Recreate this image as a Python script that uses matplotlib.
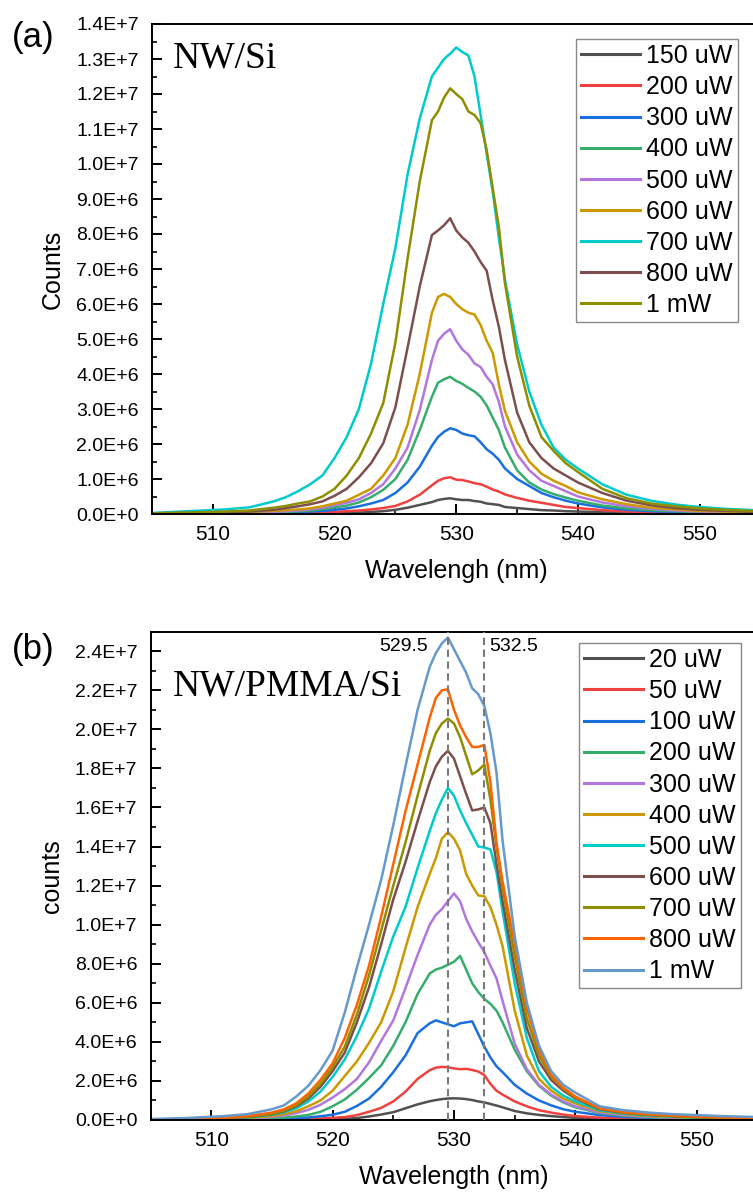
import numpy as np
import matplotlib
matplotlib.use("Agg")
import matplotlib.pyplot as plt
from matplotlib.ticker import MultipleLocator, FuncFormatter

plt.rcParams['font.family'] = ['Liberation Sans', 'DejaVu Sans']

# ---------------- data (counts in units of 1e6) ----------------
wl = [505, 508, 511, 513, 515, 516, 517, 518, 519, 520, 521, 522, 523, 524, 525, 526, 527, 528,
      528.5, 529, 529.5, 530, 530.5, 531, 531.5, 532, 532.5, 533, 533.5, 534,
      535, 536, 537, 538, 539, 540, 542, 544, 546, 548, 550, 552, 555]

# (a) NW/Si
a_labels = ['150 uW', '200 uW', '300 uW', '400 uW', '500 uW', '600 uW', '700 uW', '800 uW', '1 mW']
a_150 = [0, 0, 0.005, 0.005, 0.01, 0.01, 0.015, 0.02, 0.02, 0.03, 0.03, 0.04, 0.06, 0.08, 0.12, 0.18, 0.26, 0.34,
         0.4, 0.43, 0.45, 0.42, 0.4, 0.4, 0.37, 0.35, 0.3, 0.28, 0.26, 0.2,
         0.17, 0.14, 0.11, 0.1, 0.08, 0.07, 0.05, 0.03, 0.02, 0.015, 0.01, 0.01, 0.005]
a_200 = [0, 0.005, 0.01, 0.01, 0.02, 0.02, 0.03, 0.04, 0.05, 0.06, 0.08, 0.1, 0.13, 0.17, 0.23, 0.36, 0.55, 0.82,
         0.95, 1.02, 1.05, 0.98, 0.97, 0.93, 0.88, 0.85, 0.78, 0.7, 0.64, 0.56,
         0.46, 0.38, 0.32, 0.26, 0.2, 0.17, 0.11, 0.07, 0.05, 0.03, 0.02, 0.02, 0.01]
a_300 = [0.005, 0.01, 0.015, 0.02, 0.03, 0.04, 0.05, 0.07, 0.09, 0.12, 0.16, 0.22, 0.3, 0.4, 0.6, 0.9, 1.35, 1.95,
         2.2, 2.35, 2.45, 2.4, 2.3, 2.25, 2.22, 2.05, 1.85, 1.72, 1.55, 1.3,
         1.0, 0.8, 0.6, 0.48, 0.38, 0.3, 0.19, 0.12, 0.08, 0.06, 0.04, 0.03, 0.02]
a_400 = [0.01, 0.01, 0.02, 0.03, 0.05, 0.06, 0.08, 0.1, 0.14, 0.19, 0.24, 0.33, 0.48, 0.69, 1.0, 1.55, 2.4, 3.35,
         3.75, 3.85, 3.92, 3.8, 3.72, 3.6, 3.5, 3.35, 3.1, 2.75, 2.4, 1.9,
         1.25, 0.9, 0.7, 0.57, 0.47, 0.38, 0.24, 0.16, 0.11, 0.08, 0.06, 0.04, 0.03]
a_500 = [0.01, 0.02, 0.03, 0.04, 0.06, 0.08, 0.1, 0.13, 0.18, 0.25, 0.32, 0.42, 0.6, 0.85, 1.3, 1.9, 2.97, 4.4,
         4.95, 5.15, 5.28, 4.95, 4.7, 4.55, 4.3, 4.2, 3.92, 3.7, 3.2, 2.5,
         1.7, 1.25, 0.95, 0.8, 0.65, 0.5, 0.33, 0.22, 0.15, 0.1, 0.07, 0.05, 0.04]
a_600 = [0.01, 0.02, 0.04, 0.06, 0.09, 0.11, 0.13, 0.16, 0.22, 0.3, 0.38, 0.55, 0.72, 1.1, 1.6, 2.55, 4.0, 5.75,
         6.2, 6.29, 6.2, 6.0, 5.85, 5.75, 5.7, 5.4, 4.95, 4.6, 3.7, 2.95,
         2.05, 1.5, 1.15, 0.95, 0.8, 0.62, 0.42, 0.28, 0.18, 0.13, 0.09, 0.07, 0.05]
a_700 = [0.03, 0.08, 0.13, 0.19, 0.36, 0.48, 0.65, 0.85, 1.1, 1.6, 2.2, 3.0, 4.3, 6.0, 7.6, 9.7, 11.3, 12.5,
         12.75, 13.0, 13.15, 13.33, 13.2, 13.1, 12.5, 11.4, 10.3, 9.2, 7.9, 6.7,
         4.85, 3.5, 2.55, 1.9, 1.55, 1.3, 0.85, 0.55, 0.38, 0.27, 0.2, 0.15, 0.1]
a_800 = [0.02, 0.03, 0.05, 0.07, 0.12, 0.17, 0.22, 0.28, 0.36, 0.52, 0.72, 1.05, 1.45, 2.02, 3.05, 4.75, 6.5, 7.97,
         8.1, 8.25, 8.45, 8.1, 7.9, 7.75, 7.5, 7.2, 6.95, 6.1, 5.35, 4.4,
         2.9, 2.05, 1.6, 1.3, 1.1, 0.9, 0.6, 0.38, 0.25, 0.17, 0.12, 0.09, 0.06]
a_1mw = [0.02, 0.04, 0.07, 0.1, 0.18, 0.23, 0.3, 0.36, 0.5, 0.72, 1.1, 1.6, 2.3, 3.17, 4.9, 7.3, 9.5, 11.25,
         11.5, 11.9, 12.16, 12.0, 11.85, 11.5, 11.4, 11.17, 10.4, 9.3, 8.2, 6.6,
         4.5, 3.1, 2.2, 1.8, 1.45, 1.2, 0.72, 0.45, 0.3, 0.22, 0.16, 0.12, 0.08]

# (b) NW/PMMA/Si
b_labels = ['20 uW', '50 uW', '100 uW', '200 uW', '300 uW', '400 uW', '500 uW', '600 uW', '700 uW', '800 uW', '1 mW']
b_20 = [0, 0, 0.005, 0.005, 0.01, 0.01, 0.015, 0.02, 0.03, 0.04, 0.06, 0.1, 0.18, 0.28, 0.4, 0.6, 0.8, 0.96,
        1.02, 1.07, 1.1, 1.11, 1.1, 1.07, 1.02, 0.95, 0.9, 0.82, 0.74, 0.65,
        0.46, 0.34, 0.26, 0.2, 0.15, 0.11, 0.07, 0.05, 0.03, 0.02, 0.015, 0.01, 0.01]
b_50 = [0, 0.005, 0.01, 0.01, 0.02, 0.03, 0.04, 0.06, 0.08, 0.11, 0.15, 0.25, 0.42, 0.62, 0.95, 1.45, 2.1, 2.55,
        2.68, 2.72, 2.7, 2.64, 2.6, 2.62, 2.56, 2.48, 2.3, 1.85, 1.5, 1.3,
        0.95, 0.7, 0.5, 0.38, 0.28, 0.2, 0.12, 0.08, 0.05, 0.04, 0.03, 0.02, 0.015]
b_100 = [0.005, 0.01, 0.015, 0.02, 0.04, 0.06, 0.09, 0.13, 0.19, 0.27, 0.42, 0.72, 1.1, 1.7, 2.45, 3.3, 4.45, 4.95,
         5.1, 5.0, 4.9, 4.8, 4.95, 5.0, 5.05, 4.4, 3.75, 3.2, 2.75, 2.45,
         1.8, 1.35, 1.0, 0.75, 0.55, 0.42, 0.25, 0.16, 0.11, 0.08, 0.06, 0.04, 0.03]
b_200 = [0.01, 0.01, 0.02, 0.04, 0.08, 0.12, 0.18, 0.26, 0.42, 0.7, 1.05, 1.55, 2.15, 2.8, 3.8, 5.0, 6.45, 7.5,
         7.7, 7.8, 7.95, 8.1, 8.4, 7.7, 7.0, 6.55, 6.2, 5.95, 5.6, 5.0,
         3.6, 2.5, 1.75, 1.25, 0.9, 0.65, 0.35, 0.22, 0.15, 0.1, 0.08, 0.06, 0.04]
b_300 = [0.01, 0.02, 0.04, 0.07, 0.15, 0.23, 0.35, 0.52, 0.78, 1.15, 1.58, 2.1, 2.95, 4.05, 5.1, 6.75, 8.45, 10.0,
         10.5, 10.8, 11.2, 11.6, 11.2, 10.3, 9.65, 9.1, 8.6, 7.9, 7.25, 6.1,
         3.9, 2.6, 1.8, 1.3, 0.95, 0.7, 0.38, 0.25, 0.17, 0.12, 0.09, 0.07, 0.05]
b_400 = [0.02, 0.03, 0.06, 0.1, 0.2, 0.3, 0.45, 0.7, 1.0, 1.5, 2.25, 3.0, 3.95, 5.0, 6.6, 8.8, 10.9, 12.6,
         13.4, 14.4, 14.74, 14.4, 13.8, 12.6, 12.0, 11.5, 11.45, 10.9, 10.0, 8.9,
         5.6, 3.3, 2.1, 1.5, 1.1, 0.85, 0.45, 0.3, 0.2, 0.15, 0.11, 0.08, 0.06]
b_500 = [0.02, 0.04, 0.08, 0.13, 0.27, 0.4, 0.6, 0.95, 1.45, 2.2, 3.1, 4.3, 5.7, 7.6, 9.4, 10.9, 12.9, 14.8,
         15.7, 16.4, 17.0, 16.6, 15.85, 15.2, 14.6, 14.0, 13.95, 13.85, 12.7, 10.7,
         7.0, 4.2, 2.5, 1.7, 1.25, 0.95, 0.5, 0.33, 0.23, 0.17, 0.12, 0.1, 0.07]
b_600 = [0.02, 0.05, 0.09, 0.15, 0.3, 0.45, 0.7, 1.1, 1.7, 2.5, 3.45, 5.0, 6.8, 9.0, 11.3, 13.2, 15.3, 17.3,
         18.1, 18.6, 18.9, 18.5, 17.6, 16.7, 15.85, 15.9, 16.0, 15.2, 13.1, 11.2,
         7.7, 4.7, 3.0, 2.05, 1.5, 1.1, 0.55, 0.36, 0.26, 0.19, 0.14, 0.11, 0.08]
b_700 = [0.03, 0.05, 0.1, 0.17, 0.32, 0.48, 0.75, 1.2, 1.85, 2.7, 3.75, 5.4, 7.4, 9.7, 12.0, 14.2, 16.6, 18.9,
         19.8, 20.3, 20.55, 20.3, 19.6, 18.65, 17.7, 17.9, 18.2, 16.4, 14.0, 11.9,
         8.4, 5.2, 3.3, 2.2, 1.6, 1.15, 0.58, 0.38, 0.27, 0.2, 0.15, 0.12, 0.09]
b_800 = [0.03, 0.06, 0.12, 0.2, 0.38, 0.55, 0.85, 1.35, 2.05, 2.9, 4.2, 5.9, 7.9, 10.4, 13.1, 15.8, 18.2, 20.6,
         21.6, 22.0, 22.05, 21.0, 20.2, 19.6, 19.1, 19.1, 19.2, 17.3, 14.2, 12.2,
         9.0, 5.7, 3.6, 2.3, 1.65, 1.2, 0.6, 0.4, 0.3, 0.22, 0.17, 0.13, 0.1]
b_1mw = [0.05, 0.1, 0.2, 0.3, 0.55, 0.75, 1.2, 1.75, 2.55, 3.55, 5.5, 7.8, 10.0, 12.3, 15.1, 18.1, 21.0, 23.2,
         23.9, 24.4, 24.7, 24.1, 23.5, 22.9, 22.1, 21.8, 21.2, 19.8, 17.8, 14.3,
         9.4, 6.0, 3.8, 2.5, 1.8, 1.4, 0.7, 0.5, 0.38, 0.3, 0.25, 0.2, 0.15]

a_series = [a_150, a_200, a_300, a_400, a_500, a_600, a_700, a_800, a_1mw]
b_series = [b_20, b_50, b_100, b_200, b_300, b_400, b_500, b_600, b_700, b_800, b_1mw]
for s in a_series + b_series:
    assert len(s) == len(wl)

colors = ['#515151', '#F14040', '#1A6FDF', '#37AD6B', '#B177DE', '#CC9900',
          '#00CBCC', '#7D4E4E', '#8E8E00', '#FB6501', '#6699CC']
a_colors = colors[:9]
b_colors = colors[:11]

marker_lines = [529.5, 532.5]

# ---------------- figure ----------------
W, H = 753, 1192
fig = plt.figure(figsize=(W / 100, H / 100), dpi=100)


def sci(v, pos):
    if abs(v) < 1e-9:
        return '0.0E+0'
    e = int(np.floor(np.log10(abs(v)) + 1e-9))
    m = v / 10 ** e
    return f'{m:.1f}E+{e}'


def style_axes(ax, ymax, ymajor, yminor, ylabel, xlabel):
    ax.set_xlim(505, 555)
    ax.set_ylim(0, ymax)
    ax.xaxis.set_major_locator(MultipleLocator(10))
    ax.xaxis.set_minor_locator(MultipleLocator(5))
    ax.yaxis.set_major_locator(MultipleLocator(ymajor))
    ax.yaxis.set_minor_locator(MultipleLocator(yminor))
    ax.yaxis.set_major_formatter(FuncFormatter(sci))
    ax.tick_params(which='major', direction='in', length=7, width=1.4,
                   top=False, right=False)
    ax.tick_params(which='minor', direction='in', length=3.5, width=1.2, top=False, right=False)
    ax.tick_params(axis='y', which='major', pad=9.5, labelsize=14)
    ax.tick_params(axis='x', which='major', pad=8, labelsize=15)
    for sp in ax.spines.values():
        sp.set_linewidth(1.4)
    ax.set_ylabel(ylabel, fontsize=18)
    ax.set_xlabel(xlabel, fontsize=18, va='top')
    ax.yaxis.set_label_coords(-0.143, 0.5)
    ax.xaxis.set_label_coords(0.5, -0.092)


def add_legend(ax, anchor):
    leg = ax.legend(loc='upper right', bbox_to_anchor=anchor,
                    bbox_transform=fig.transFigure, fontsize=18, frameon=True,
                    fancybox=False, framealpha=1, edgecolor='#888888',
                    borderpad=0.2, labelspacing=0.285, handlelength=2.35,
                    handletextpad=0.25, borderaxespad=0)
    leg.get_frame().set_linewidth(1.0)
    for l in leg.get_lines():
        l.set_linewidth(2.2)
    return leg


# ---- panel (a)
ax1 = fig.add_axes([152 / W, 1 - 514 / H, 608.5 / W, 490 / H])
for s, lab, c in zip(a_series, a_labels, a_colors):
    ax1.plot(wl, np.array(s) * 1e6, color=c, lw=1.8, label=lab)
style_axes(ax1, 1.4e7, 1e6, 5e5, 'Counts', 'Wavelengh (nm)')
add_legend(ax1, (738 / W, 1 - 39 / H))
fig.text(173 / W, 1 - 68 / H, 'NW/Si', fontsize=27, family='Liberation Serif',
         ha='left', va='baseline')
fig.text(12 / W, 1 - 37 / H, '(a)', fontsize=25, ha='left', va='center')

# ---- panel (b)
ax2 = fig.add_axes([150.5 / W, 1 - 1120 / H, 607 / W, 488.3 / H])
for s, lab, c in zip(b_series, b_labels, b_colors):
    ax2.plot(wl, np.array(s) * 1e6, color=c, lw=1.8, label=lab)
style_axes(ax2, 2.5e7, 2e6, 1e6, 'counts', 'Wavelength (nm)')
ax2.xaxis.set_label_coords(0.5, -0.093)
for xv in marker_lines:
    ax2.axvline(xv, color='#7a7a7a', lw=1.5, ls=(0, (3.5, 2.2)), zorder=5)
ax2.text(527.86, 0.9707, '529.5', transform=ax2.get_xaxis_transform(), fontsize=14,
         ha='right', va='center')
ax2.text(532.91, 0.9707, '532.5', transform=ax2.get_xaxis_transform(), fontsize=14,
         ha='left', va='center')
add_legend(ax2, (741 / W, 1 - 643 / H))
fig.text(173 / W, 1 - 696 / H, 'NW/PMMA/Si', fontsize=27, family='Liberation Serif',
         ha='left', va='baseline')
fig.text(12 / W, 1 - 649 / H, '(b)', fontsize=25, ha='left', va='center')

fig.savefig('out.png', dpi=100)
